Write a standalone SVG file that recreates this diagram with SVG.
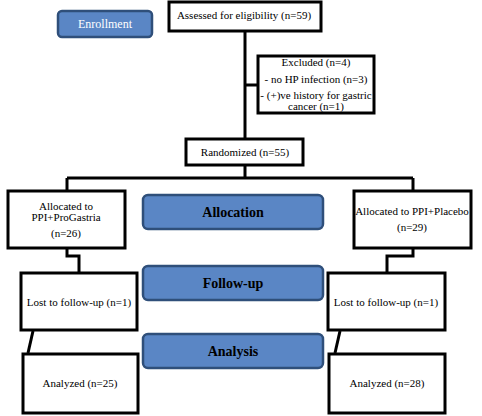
<svg xmlns="http://www.w3.org/2000/svg" width="482" height="416" viewBox="0 0 482 416">
<style>
.box{fill:#fff;stroke:#000;stroke-width:3}
.btn{fill:#5a86c5;stroke:#2f4f7a;stroke-width:2.5}
text{font-family:"Liberation Serif","Times New Roman","DejaVu Serif",serif}
.t{font-size:11px;fill:#000;text-anchor:middle}
.h{font-size:14px;font-weight:bold;fill:#000;text-anchor:middle}
.w{font-size:12px;fill:#fff;text-anchor:middle}
.c{fill:none;stroke:#000;stroke-width:3}
</style>
<rect width="482" height="416" fill="#fff"/>
<g id="connectors">
<path class="c" d="M245 32V138"/>
<path class="c" d="M245 85H258"/>
<path class="c" d="M245 166V178M67 178H413M67 178V190M413 178V190"/>
<path class="c" d="M67 249V256H79V272"/>
<path class="c" d="M413 249V256H387V272"/>
<path class="c" d="M33 331L28 353"/>
<path class="c" d="M340 331L335 353"/>
</g>
<g id="enrollment"><rect class="btn" x="58" y="11" width="94" height="26" rx="4"/><text class="w" x="105" y="28">Enrollment</text></g>
<g id="assessed"><rect class="box" x="169" y="2" width="152" height="29"/><text class="t" x="244" y="19">Assessed for eligibility (n=59)</text></g>
<g id="excluded"><rect class="box" x="258" y="56" width="116" height="57"/>
<text class="t" x="316" y="66">Excluded (n=4)</text>
<text class="t" x="316" y="83">- no HP infection (n=3)</text>
<text class="t" x="316" y="99">- (+)ve history for gastric</text>
<text class="t" x="316" y="110">cancer (n=1)</text></g>
<g id="randomized"><rect class="box" x="186" y="139" width="117" height="26"/><text class="t" x="245" y="156">Randomized (n=55)</text></g>
<g id="alloc-left"><rect class="box" x="8" y="191" width="117" height="57"/>
<text class="t" x="66" y="210">Allocated to</text>
<text class="t" x="66" y="221">PPI+ProGastria</text>
<text class="t" x="66" y="237">(n=26)</text></g>
<g id="allocation"><rect class="btn" x="143" y="195" width="180" height="34" rx="5"/><text class="h" x="233" y="217">Allocation</text></g>
<g id="alloc-right"><rect class="box" x="354" y="191" width="117" height="57"/>
<text class="t" x="412" y="215">Allocated to PPI+Placebo</text>
<text class="t" x="412" y="231">(n=29)</text></g>
<g id="lost-left"><rect class="box" x="21" y="273" width="116" height="57"/><text class="t" x="79" y="306">Lost to follow-up (n=1)</text></g>
<g id="followup"><rect class="btn" x="143" y="266" width="180" height="34" rx="5"/><text class="h" x="233" y="288">Follow-up</text></g>
<g id="lost-right"><rect class="box" x="328" y="273" width="117" height="57"/><text class="t" x="386" y="306">Lost to follow-up (n=1)</text></g>
<g id="analysis"><rect class="btn" x="143" y="334" width="180" height="34" rx="5"/><text class="h" x="233" y="356">Analysis</text></g>
<g id="analyzed-left"><rect class="box" x="23" y="354" width="115" height="59"/><text class="t" x="80" y="387">Analyzed (n=25)</text></g>
<g id="analyzed-right"><rect class="box" x="329" y="354" width="116" height="59"/><text class="t" x="387" y="387">Analyzed (n=28)</text></g>
</svg>
